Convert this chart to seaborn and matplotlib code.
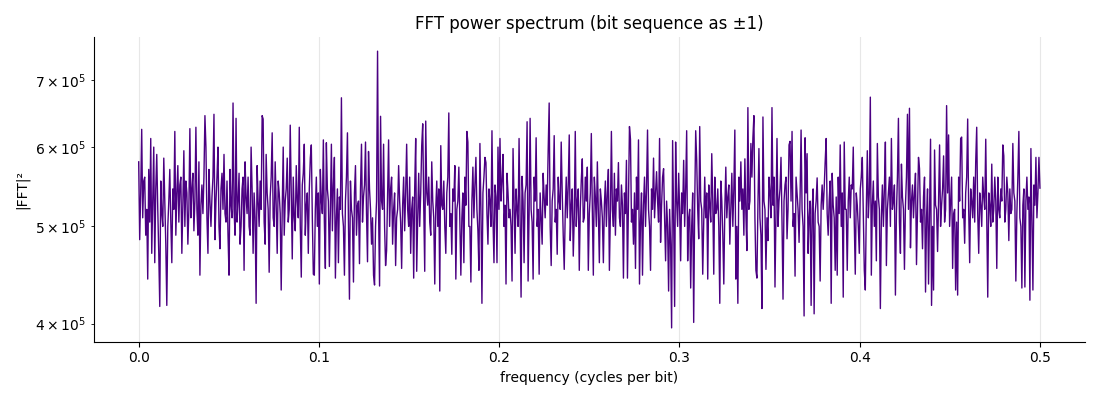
import numpy as np
import pandas as pd
import matplotlib
matplotlib.use("Agg")
import matplotlib.pyplot as plt
import seaborn as sns

# |FFT|^2, in thousands (bins spread evenly from 0 to 0.5 cycles/bit)
power_k = [
    580, 485, 540, 625, 510, 555, 560, 490, 520, 443, 570, 505, 612, 470, 530,
    600, 460, 545, 590, 520, 470, 416, 555, 515, 500, 585, 530, 480, 417, 500,
    530, 570, 505, 460, 545, 520, 622, 490, 540, 575, 505, 550, 560, 470, 525,
    595, 500, 555, 540, 480, 520, 626, 510, 545, 565, 495, 530, 628, 520, 490,
    580, 447, 525, 550, 515, 560, 645, 600, 510, 470, 570, 530, 500, 535, 560,
    647, 485, 530, 560, 600, 500, 475, 545, 565, 520, 590, 515, 505, 555, 490,
    447, 570, 525, 510, 664, 520, 490, 641, 505, 530, 565, 480, 500, 545, 560,
    452, 580, 535, 515, 560, 500, 490, 600, 545, 470, 540, 510, 419, 575, 530,
    500, 555, 520, 645, 640, 505, 480, 590, 540, 520, 450, 535, 560, 620, 510,
    500, 580, 525, 470, 555, 540, 515, 432, 520, 600, 490, 530, 545, 585, 505,
    520, 631, 545, 464, 560, 510, 495, 575, 530, 510, 628, 500, 445, 550, 565,
    604, 490, 525, 540, 470, 545, 585, 603, 510, 448, 447, 520, 560, 500, 540,
    438, 570, 530, 515, 610, 505, 454, 606, 545, 530, 456, 520, 604, 495, 550,
    586, 444, 510, 545, 460, 535, 520, 672, 515, 500, 447, 530, 560, 620, 505,
    423, 555, 520, 510, 440, 540, 575, 490, 525, 530, 459, 545, 604, 505, 535,
    550, 607, 515, 461, 594, 545, 520, 480, 510, 447, 437, 500, 530, 748, 520,
    436, 644, 530, 520, 604, 500, 457, 473, 535, 610, 500, 545, 560, 480, 520,
    540, 457, 510, 520, 575, 530, 505, 454, 525, 560, 495, 540, 604, 520, 500,
    560, 470, 520, 535, 444, 545, 612, 451, 510, 565, 500, 540, 602, 633, 525,
    451, 637, 540, 525, 560, 505, 490, 580, 530, 510, 438, 520, 555, 500, 545,
    431, 602, 525, 520, 555, 500, 470, 540, 560, 649, 500, 515, 469, 545, 530,
    575, 443, 520, 530, 573, 505, 447, 510, 540, 460, 560, 525, 622, 607, 500,
    500, 440, 530, 573, 510, 550, 586, 520, 495, 452, 605, 520, 419, 540, 560,
    586, 579, 515, 480, 545, 530, 500, 623, 510, 460, 550, 535, 460, 600, 520,
    612, 530, 555, 590, 500, 525, 438, 565, 540, 510, 520, 500, 441, 598, 530,
    470, 545, 520, 500, 612, 510, 425, 561, 530, 460, 540, 550, 636, 441, 515,
    641, 520, 505, 443, 560, 530, 613, 500, 520, 448, 540, 510, 480, 565, 535,
    510, 550, 525, 595, 664, 500, 457, 530, 545, 616, 505, 520, 469, 560, 530,
    520, 607, 540, 490, 453, 515, 560, 510, 550, 617, 484, 525, 545, 467, 510,
    622, 500, 530, 545, 452, 520, 556, 584, 505, 510, 560, 530, 573, 452, 515,
    540, 619, 520, 447, 560, 535, 500, 580, 515, 460, 545, 530, 510, 460, 525,
    555, 500, 540, 570, 452, 515, 622, 520, 500, 565, 490, 545, 530, 579, 510,
    500, 550, 525, 444, 540, 515, 582, 444, 530, 629, 611, 505, 520, 480, 540,
    454, 560, 520, 610, 438, 505, 540, 447, 525, 560, 500, 545, 624, 520, 500,
    452, 545, 520, 585, 510, 540, 567, 530, 505, 612, 482, 525, 560, 571, 510,
    462, 530, 500, 431, 520, 480, 396, 609, 510, 416, 607, 530, 500, 565, 520,
    462, 540, 515, 582, 500, 545, 623, 462, 510, 520, 434, 500, 540, 401, 525,
    623, 582, 520, 486, 629, 530, 520, 448, 505, 560, 510, 540, 443, 550, 525,
    505, 591, 530, 448, 560, 515, 520, 545, 500, 419, 555, 530, 490, 438, 520,
    573, 510, 535, 550, 480, 520, 565, 500, 545, 624, 443, 500, 419, 560, 530,
    580, 520, 545, 490, 584, 515, 473, 657, 520, 530, 605, 560, 613, 645, 510,
    452, 444, 525, 598, 510, 490, 414, 643, 530, 520, 453, 510, 484, 560, 540,
    510, 657, 525, 560, 435, 515, 612, 500, 530, 545, 586, 505, 423, 530, 550,
    560, 486, 520, 603, 608, 530, 622, 500, 515, 446, 560, 540, 520, 482, 535,
    624, 520, 500, 407, 613, 540, 591, 470, 510, 530, 417, 520, 545, 409, 515,
    530, 559, 505, 500, 441, 525, 550, 520, 545, 580, 612, 515, 490, 530, 555,
    419, 565, 525, 510, 452, 535, 447, 560, 515, 603, 500, 540, 425, 607, 520,
    520, 452, 530, 560, 510, 550, 545, 600, 505, 448, 540, 525, 500, 470, 545,
    560, 586, 515, 452, 432, 520, 595, 510, 540, 673, 447, 525, 555, 500, 530,
    462, 605, 535, 520, 414, 510, 550, 500, 545, 607, 457, 520, 540, 560, 500,
    612, 520, 530, 550, 427, 515, 560, 641, 505, 470, 577, 535, 520, 453, 525,
    560, 647, 520, 656, 476, 530, 550, 510, 540, 565, 458, 515, 586, 571, 505,
    520, 475, 535, 560, 430, 510, 545, 438, 520, 611, 417, 500, 432, 596, 525,
    520, 472, 530, 603, 500, 525, 545, 588, 505, 520, 660, 540, 617, 500, 530,
    560, 454, 515, 520, 432, 505, 427, 560, 530, 612, 614, 510, 520, 481, 540,
    560, 640, 520, 460, 545, 530, 510, 560, 505, 580, 628, 515, 470, 540, 525,
    500, 560, 535, 520, 611, 510, 425, 540, 525, 500, 577, 505, 520, 560, 530,
    454, 560, 520, 510, 545, 530, 603, 588, 505, 520, 560, 540, 484, 545, 515,
    520, 605, 540, 530, 441, 515, 560, 622, 510, 500, 434, 525, 545, 435, 530,
    560, 520, 535, 422, 598, 510, 432, 550, 525, 586, 510, 540, 586, 546,
]

freq_max = 0.5

power = np.array(power_k, dtype=float) * 1e3
freqs = np.linspace(0, freq_max, len(power))
df = pd.DataFrame({"freq": freqs, "power": power})

fig, ax = plt.subplots(figsize=(11, 4), dpi=100)
sns.lineplot(data=df, x="freq", y="power", ax=ax, color="indigo",
             linewidth=1.0, estimator=None, errorbar=None)
ax.set_yscale("log")
ax.set_title("FFT power spectrum (bit sequence as ±1)", fontsize=12)
ax.set_xlabel("frequency (cycles per bit)")
ax.set_ylabel("|FFT|²")
ax.grid(True, axis="x", alpha=0.3)
sns.despine(ax=ax)
fig.tight_layout()
fig.savefig("out.png")
